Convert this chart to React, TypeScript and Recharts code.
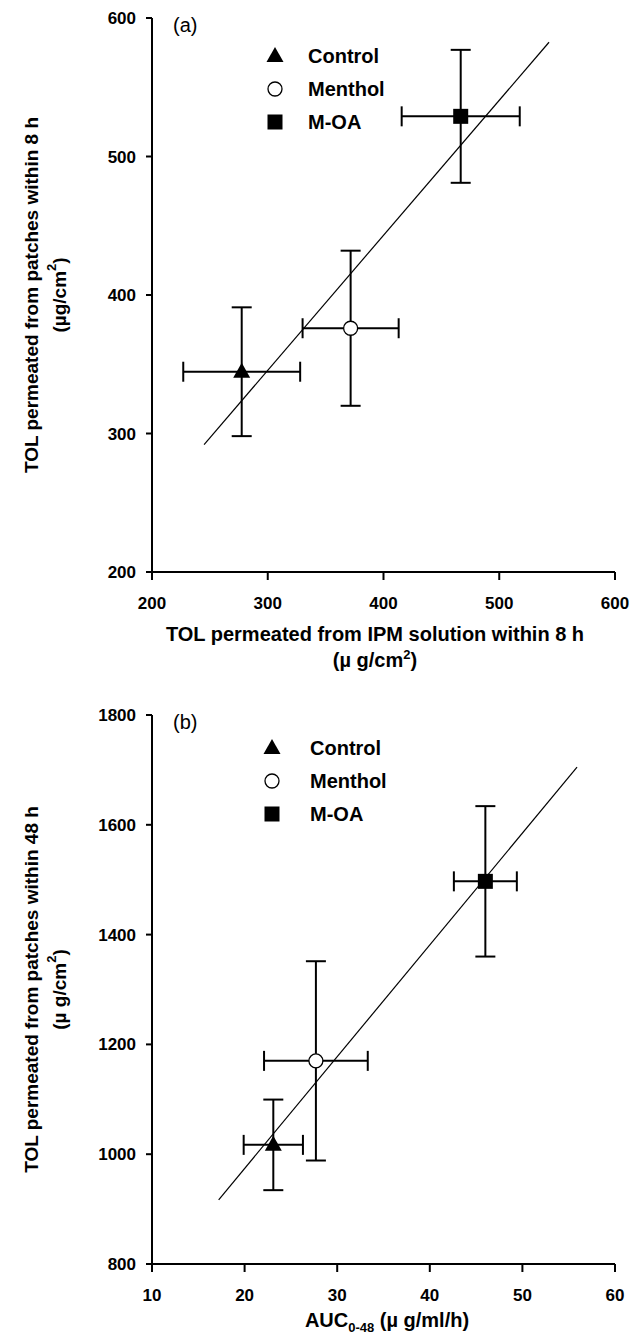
import React from 'react';
import { ScatterChart, Scatter, XAxis, YAxis, ErrorBar, ReferenceLine, Legend, Label } from 'recharts';

const FONT = '"Liberation Sans", Arial, Helvetica, sans-serif';

const groups = ['Control', 'Menthol', 'M-OA'];
const markerKinds = ['triangle', 'circle', 'square'];

// panel (a)
const ipmMeans = [277.5, 371.6, 466.7];
const ipmSD = [50.5, 41.5, 51];
const patch8hMeans = [344.6, 376, 529];
const patch8hSD = [46.5, 56, 48];
const fitAx = [245, 543];
const fitAy = [292, 582.5];
const ticksA = [200, 300, 400, 500, 600];

// panel (b)
const aucMeans = [23.1, 27.7, 46];
const aucSD = [3.2, 5.6, 3.4];
const patch48hMeans = [1017, 1170, 1497];
const patch48hSD = [82.5, 181.5, 137];
const fitBx = [17.2, 55.9];
const fitBy = [917, 1705];
const ticksBx = [10, 20, 30, 40, 50, 60];
const ticksBy = [800, 1000, 1200, 1400, 1600, 1800];

const Marker = ({ kind, cx, cy }: { kind: string; cx: number; cy: number }) => {
  if (kind === 'triangle')
    return <polygon points={`${cx},${cy - 9} ${cx + 8.5},${cy + 6} ${cx - 8.5},${cy + 6}`} fill="#000" />;
  if (kind === 'circle') return <circle cx={cx} cy={cy} r={7} fill="#fff" stroke="#000" strokeWidth={1.3} />;
  return <rect x={cx - 7.5} y={cy - 7.5} width={15} height={15} fill="#000" />;
};

const LegendBox = ({ textX }: { textX: number }) => (
  <svg width={200} height={104}>
    {groups.map((g, i) => {
      const cy = 18 + i * 33;
      return (
        <g key={g}>
          <Marker kind={markerKinds[i]} cx={20} cy={cy} />
          <text x={textX} y={cy + 7} fontFamily={FONT} fontWeight="bold" fontSize={20} fill="#000">
            {g}
          </text>
        </g>
      );
    })}
  </svg>
);

const axisStyle = { stroke: '#000', strokeWidth: 2 };
const tickStyle = { fill: '#000', fontSize: 17, fontWeight: 'bold', fontFamily: FONT };

type PanelProps = {
  height: number;
  top: number;
  bottom: number;
  xMeans: number[];
  xSD: number[];
  yMeans: number[];
  ySD: number[];
  fitX: number[];
  fitY: number[];
  xTicks: number[];
  yTicks: number[];
  letter: string;
  yTitle: React.ReactNode;
  yUnit: React.ReactNode;
  xTitle: (vb: any) => React.ReactNode;
  legendPos: { left: number; top: number; textX: number };
};

const Panel = (p: PanelProps) => (
  <ScatterChart width={644} height={p.height} margin={{ top: p.top, right: 29, bottom: 0, left: 0 }}>
    <XAxis
      type="number"
      dataKey="x"
      domain={[p.xTicks[0], p.xTicks[p.xTicks.length - 1]]}
      ticks={p.xTicks}
      interval={0}
      height={p.bottom}
      axisLine={axisStyle}
      tickLine={axisStyle}
      tickSize={8}
      tickMargin={17}
      tick={tickStyle}
      allowDataOverflow
    >
      <Label content={(lp: any) => p.xTitle(lp.viewBox)} />
    </XAxis>
    <YAxis
      type="number"
      dataKey="y"
      domain={[p.yTicks[0], p.yTicks[p.yTicks.length - 1]]}
      ticks={p.yTicks}
      interval={0}
      width={152}
      axisLine={axisStyle}
      tickLine={axisStyle}
      tickSize={6}
      tickMargin={10}
      tick={tickStyle}
      allowDataOverflow
    >
      <Label
        content={(lp: any) => {
          const vb = lp.viewBox || { x: 0, y: p.top, width: 152, height: 550 };
          const cy = vb.y + vb.height / 2;
          return (
            <g fontFamily={FONT} fontWeight="bold" fontSize={19} fill="#000">
              <text x={31} y={cy} transform={`rotate(-90 31 ${cy})`} textAnchor="middle" dominantBaseline="central">
                {p.yTitle}
              </text>
              <text x={59} y={cy} transform={`rotate(-90 59 ${cy})`} textAnchor="middle" dominantBaseline="central">
                {p.yUnit}
              </text>
              <text x={vb.x + vb.width + 21} y={vb.y + 14} fontWeight="normal" fontSize={20}>
                {p.letter}
              </text>
            </g>
          );
        }}
      />
    </YAxis>
    <ReferenceLine
      segment={[
        { x: p.fitX[0], y: p.fitY[0] },
        { x: p.fitX[1], y: p.fitY[1] },
      ]}
      stroke="#000"
      strokeWidth={1.2}
      ifOverflow="visible"
    />
    {groups.map((g, i) => (
      <Scatter
        key={g}
        name={g}
        data={[{ x: p.xMeans[i], y: p.yMeans[i], ex: p.xSD[i], ey: p.ySD[i] }]}
        isAnimationActive={false}
        shape={(sp: any) => <Marker kind={markerKinds[i]} cx={sp.cx} cy={sp.cy} />}
      >
        <ErrorBar dataKey="ex" direction="x" width={10} stroke="#000" strokeWidth={2} isAnimationActive={false} />
        <ErrorBar dataKey="ey" direction="y" width={10} stroke="#000" strokeWidth={2} isAnimationActive={false} />
      </Scatter>
    ))}
    <Legend
      layout="vertical"
      align="center"
      verticalAlign="middle"
      wrapperStyle={{ position: 'absolute', left: p.legendPos.left, top: p.legendPos.top, width: 200 }}
      content={() => <LegendBox textX={p.legendPos.textX} />}
    />
  </ScatterChart>
);

export default function App() {
  return (
    <div style={{ position: 'absolute', left: 0, top: 0, width: 644, height: 1337, background: '#fff', overflow: 'hidden' }}>
      <Panel
        height={680}
        top={18}
        bottom={108}
        xMeans={ipmMeans}
        xSD={ipmSD}
        yMeans={patch8hMeans}
        ySD={patch8hSD}
        fitX={fitAx}
        fitY={fitAy}
        xTicks={ticksA}
        yTicks={ticksA}
        letter="(a)"
        yTitle="TOL permeated from patches within 8 h"
        yUnit={
          <>
            (µg/cm<tspan dy={-8} fontSize={13}>2</tspan>
            <tspan dy={8}>)</tspan>
          </>
        }
        xTitle={(vb: any) => {
          const x = (vb?.x ?? 152) + 223;
          const y = vb?.y ?? 572;
          return (
            <g fontFamily={FONT} fontWeight="bold" fontSize={20} fill="#000" textAnchor="middle">
              <text x={x} y={y + 69}>TOL permeated from IPM solution within 8 h</text>
              <text x={x} y={y + 95}>
                (µ g/cm<tspan dy={-8} fontSize={13}>2</tspan>
                <tspan dy={8}>)</tspan>
              </text>
            </g>
          );
        }}
        legendPos={{ left: 255, top: 38, textX: 53 }}
      />
      <Panel
        height={657}
        top={35}
        bottom={73}
        xMeans={aucMeans}
        xSD={aucSD}
        yMeans={patch48hMeans}
        ySD={patch48hSD}
        fitX={fitBx}
        fitY={fitBy}
        xTicks={ticksBx}
        yTicks={ticksBy}
        letter="(b)"
        yTitle="TOL permeated from patches within 48 h"
        yUnit={
          <>
            (µ g/cm<tspan dy={-8} fontSize={13}>2</tspan>
            <tspan dy={8}>)</tspan>
          </>
        }
        xTitle={(vb: any) => {
          const x = (vb?.x ?? 153) + 235;
          const y = vb?.y ?? 584;
          return (
            <text x={x} y={y + 63} fontFamily={FONT} fontWeight="bold" fontSize={20} fill="#000" textAnchor="middle">
              AUC<tspan dy={5} fontSize={13}>0-48</tspan>
              <tspan dy={-5}> (µ g/ml/h)</tspan>
            </text>
          );
        }}
        legendPos={{ left: 252, top: 50, textX: 58 }}
      />
    </div>
  );
}
